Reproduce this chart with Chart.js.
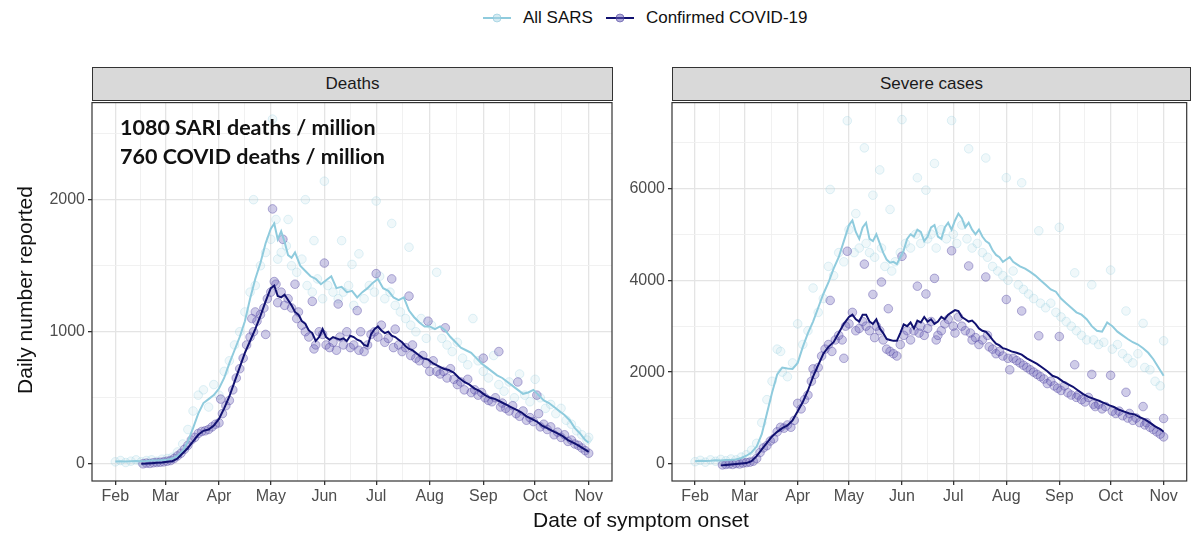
<!DOCTYPE html>
<html>
<head>
<meta charset="utf-8">
<script src="https://cdn.jsdelivr.net/npm/chart.js@4.4.1/dist/chart.umd.min.js"></script>
<style>
body { margin: 0; width: 1192px; height: 535px; background: #fff; position: relative; overflow: hidden; font-family: "Liberation Sans", Arial, sans-serif; }
canvas { position: absolute; top: 90px; }
#deaths { left: 0; }
#severe { left: 580px; }
.strip { position: absolute; top: 67px; height: 34px; box-sizing: border-box; background: #D9D9D9; border: 1.2px solid #333; text-align: center; line-height: 31px; font-size: 17px; color: #1A1A1A; }
.legend { position: absolute; left: 483px; top: 6px; display: flex; align-items: center; font-size: 17px; color: #111; height: 24px; }
.legend span { margin: 0 13px 0 12px; }
.title-x { position: absolute; left: 341px; width: 600px; top: 508px; text-align: center; font-size: 21px; line-height: 24px; color: #111; }
.title-y { position: absolute; left: -175px; width: 400px; top: 278px; text-align: center; font-size: 21px; line-height: 24px; color: #111; transform: rotate(-90deg); }
.note { position: absolute; left: 120px; top: 113px; font-family: Lato, "Open Sans", sans-serif; font-weight: bold; font-size: 21.5px; line-height: 29px; color: #111; z-index: 2; }
</style>
</head>
<body>
<div class="legend">
  <svg width="28" height="20"><line x1="0" y1="10" x2="28" y2="10" stroke="#8FCBDD" stroke-width="2"/><circle cx="14" cy="10" r="4" fill="rgba(173,216,230,0.5)" stroke="rgba(140,200,220,0.6)"/></svg>
  <span>All SARS</span>
  <svg width="28" height="20"><line x1="0" y1="10" x2="28" y2="10" stroke="#101070" stroke-width="2"/><circle cx="14" cy="10" r="4" fill="rgba(100,90,180,0.5)" stroke="rgba(80,70,160,0.6)"/></svg>
  <span>Confirmed COVID-19</span>
</div>
<div class="strip" style="left:92px; width:521px;">Deaths</div>
<div class="strip" style="left:672px; width:519px;">Severe cases</div>
<div class="note">1080 SARI deaths / million<br>760 COVID deaths / million</div>
<canvas id="deaths" width="620" height="421"></canvas>
<canvas id="severe" width="612" height="421"></canvas>
<div class="title-y">Daily number reported</div>
<div class="title-x">Date of symptom onset</div>

<script>
// x = days since 1 Feb
const monthDays = [0, 29, 60, 90, 121, 151, 182, 213, 243, 274]
const monthLabels = ['Feb', 'Mar', 'Apr', 'May', 'Jun', 'Jul', 'Aug', 'Sep', 'Oct', 'Nov']
const deathsTicks = [0, 1000, 2000]
const severeTicks = [0, 2000, 4000, 6000]

// Deaths panel
const deathsSarsLine = [[0,18],[3,20],[6,18],[9,20],[12,22],[15,20],[18,22],[21,25],[24,25],[27,28],[30,30],[33,40],[36,60],[39,95],[42,170],[45,270],[48,380],[51,460],[54,490],[57,520],[60,570],[63,650],[66,760],[69,860],[72,960],[75,1080],[78,1250],[81,1400],[84,1520],[87,1670],[90,1780],[92,1820],[94,1700],[96,1760],[98,1680],[100,1580],[102,1560],[104,1600],[107,1500],[110,1460],[113,1420],[116,1400],[119,1360],[122,1390],[125,1420],[128,1330],[131,1340],[134,1300],[137,1310],[140,1260],[143,1300],[146,1330],[149,1370],[152,1400],[155,1330],[158,1310],[161,1260],[164,1240],[167,1260],[170,1160],[173,1110],[176,1070],[179,1040],[182,1040],[185,1020],[188,1040],[191,1010],[194,960],[197,920],[200,880],[203,860],[206,840],[209,800],[212,760],[215,730],[218,700],[221,670],[224,650],[227,620],[230,590],[233,560],[236,530],[239,540],[242,560],[245,520],[248,480],[251,460],[254,430],[257,400],[260,370],[263,330],[266,270],[269,230],[272,180],[274,160]]
const deathsCovidLine = [[15,0],[18,2],[21,5],[24,8],[27,10],[30,15],[33,20],[36,40],[39,80],[42,120],[45,170],[48,220],[51,250],[54,260],[57,290],[60,340],[63,420],[66,510],[69,620],[72,730],[75,840],[78,930],[81,1020],[84,1120],[87,1230],[90,1330],[92,1350],[94,1270],[96,1260],[98,1280],[100,1240],[102,1200],[104,1150],[106,1130],[108,1080],[110,1060],[112,1010],[114,990],[116,930],[118,960],[120,1020],[122,960],[124,940],[126,960],[128,950],[130,940],[132,950],[134,930],[136,970],[138,960],[140,940],[142,930],[144,900],[146,890],[148,980],[150,1020],[152,1040],[154,1010],[156,990],[158,1000],[160,970],[162,960],[164,940],[166,920],[168,890],[170,870],[172,860],[175,830],[178,800],[181,790],[184,760],[187,740],[190,720],[193,710],[196,690],[199,650],[202,620],[205,600],[208,570],[211,550],[214,520],[217,500],[220,490],[223,470],[226,450],[229,430],[232,410],[235,390],[238,360],[241,340],[244,320],[247,290],[250,270],[253,250],[256,230],[259,210],[262,180],[265,160],[268,140],[271,115],[274,90]]
const deathsSarsPoints = [[0,15],[3,25],[6,10],[9,20],[12,30],[15,15],[18,25],[21,30],[24,20],[27,35],[30,40],[33,50],[36,90],[39,150],[42,260],[45,400],[48,520],[51,560],[54,430],[57,600],[60,520],[63,700],[66,780],[69,900],[72,1000],[75,1150],[78,1300],[80,2000],[81,1350],[84,1500],[87,1600],[90,1700],[91,2610],[93,1850],[94,1550],[96,1600],[99,1650],[100,1850],[102,1500],[105,1450],[108,1550],[110,2000],[111,1350],[114,1300],[115,1690],[117,1400],[120,1250],[121,2140],[123,1350],[126,1300],[129,1250],[131,1690],[132,1300],[135,1350],[137,1510],[138,1200],[141,1590],[144,1250],[147,1350],[150,1300],[151,1990],[153,1420],[156,1250],[159,1300],[160,1820],[162,1200],[165,1150],[168,1100],[170,1640],[171,1050],[174,1000],[177,1100],[180,950],[183,1050],[186,1450],[189,950],[192,900],[195,850],[198,920],[201,800],[204,750],[207,1100],[210,780],[213,700],[216,650],[219,820],[222,600],[225,550],[228,620],[231,500],[234,680],[237,520],[240,470],[243,640],[246,500],[249,420],[252,450],[255,380],[258,420],[261,330],[264,300],[267,250],[270,220],[273,180],[274,200]]
const deathsCovidPoints = [[16,0],[18,5],[20,3],[22,8],[24,10],[26,12],[28,15],[30,20],[32,25],[34,40],[36,60],[38,80],[40,110],[42,140],[44,180],[46,200],[48,230],[50,245],[52,250],[54,260],[56,280],[58,300],[60,310],[61,490],[62,380],[64,440],[66,480],[68,560],[70,650],[72,720],[74,800],[76,900],[78,960],[79,1100],[80,1000],[81,1150],[82,1080],[84,1130],[86,1180],[87,980],[88,1250],[90,1300],[91,1930],[92,1380],[93,1360],[94,1220],[96,1300],[97,1700],[98,1200],[100,1250],[102,1180],[104,1360],[105,1100],[106,1150],[108,1050],[110,1000],[112,960],[114,1230],[115,870],[116,900],[118,1000],[120,980],[121,1520],[122,900],[124,880],[126,920],[128,860],[129,1210],[130,960],[132,900],[134,1000],[136,880],[138,900],[140,1160],[141,860],[142,1000],[144,850],[146,900],[148,980],[150,1000],[151,1440],[152,960],[154,1050],[156,920],[158,950],[160,1400],[161,880],[162,1020],[164,900],[166,850],[168,880],[170,1270],[171,820],[172,900],[174,800],[176,780],[178,820],[180,760],[181,1080],[182,700],[184,780],[186,700],[188,680],[190,700],[191,1030],[192,650],[194,720],[196,640],[198,600],[200,620],[202,560],[204,640],[206,540],[208,560],[210,520],[212,540],[213,800],[214,500],[216,480],[218,470],[220,500],[222,850],[223,430],[224,460],[226,420],[228,400],[230,440],[232,380],[233,620],[234,360],[236,400],[238,330],[240,350],[242,320],[244,520],[245,380],[246,280],[248,300],[250,260],[252,280],[254,220],[256,240],[258,200],[260,220],[262,170],[264,180],[266,150],[268,140],[270,120],[272,100],[274,80]]

// Severe cases panel
const severeSarsLine = [[0,60],[3,70],[6,65],[9,70],[12,80],[15,75],[18,85],[21,90],[24,100],[27,130],[30,180],[33,250],[36,380],[39,650],[42,1100],[45,1550],[48,1950],[51,2100],[54,2080],[57,2070],[60,2200],[63,2550],[66,2850],[69,3100],[72,3400],[75,3700],[78,3950],[81,4250],[84,4500],[87,4850],[90,5200],[92,5300],[94,5050],[96,4900],[98,5150],[100,5250],[102,4900],[104,4850],[106,5000],[108,4800],[110,4600],[112,4450],[114,4380],[116,4400],[118,4350],[120,4500],[122,4650],[124,4900],[126,5000],[128,4950],[130,5100],[132,5050],[134,4850],[136,4950],[138,5150],[140,5200],[142,4950],[144,4900],[146,5150],[148,5250],[150,5100],[152,5300],[154,5450],[156,5350],[158,5150],[160,5250],[162,5100],[164,5000],[166,5100],[168,4950],[170,4850],[172,4800],[174,4650],[176,4550],[178,4500],[180,4400],[182,4450],[184,4500],[186,4400],[188,4350],[190,4300],[193,4250],[196,4180],[199,4100],[202,4000],[205,3900],[208,3800],[211,3750],[214,3600],[217,3500],[220,3400],[223,3300],[226,3250],[229,3150],[232,3000],[235,2900],[238,2880],[241,3080],[244,3000],[247,2880],[250,2800],[253,2720],[256,2650],[259,2600],[262,2520],[265,2420],[268,2280],[271,2100],[274,1920]]
const severeCovidLine = [[15,-30],[18,-20],[21,-10],[24,0],[27,10],[30,20],[33,60],[36,170],[39,320],[42,460],[45,600],[48,700],[51,780],[54,840],[57,950],[60,1150],[63,1350],[66,1600],[69,1900],[72,2150],[75,2400],[78,2550],[81,2650],[84,2850],[87,3050],[90,3200],[92,3250],[94,3150],[96,3100],[98,3250],[100,3250],[102,3100],[104,3050],[106,3150],[108,2950],[110,2850],[112,2720],[114,2700],[116,2680],[118,2680],[120,2850],[122,3040],[124,3000],[126,3080],[128,2950],[130,3120],[132,3080],[134,3200],[136,3100],[138,3150],[140,3050],[142,3100],[144,3200],[146,3150],[148,3250],[150,3300],[152,3350],[154,3330],[156,3200],[158,3150],[160,3100],[162,3120],[164,3050],[166,2950],[168,2900],[170,2880],[172,2800],[174,2700],[176,2620],[178,2580],[180,2520],[182,2500],[185,2450],[188,2420],[191,2380],[194,2300],[197,2240],[200,2180],[203,2100],[206,2020],[209,1920],[212,1880],[215,1800],[218,1740],[221,1680],[224,1600],[227,1520],[230,1460],[233,1420],[236,1380],[239,1330],[242,1280],[245,1240],[248,1180],[251,1140],[254,1100],[257,1080],[260,1020],[263,970],[266,900],[269,820],[272,760],[274,700]]
const severeSarsPoints = [[0,50],[3,80],[6,40],[9,90],[12,60],[15,100],[18,70],[21,110],[24,90],[27,150],[30,200],[33,300],[36,450],[39,900],[42,1400],[45,1800],[48,2500],[50,2450],[51,2000],[54,1900],[57,2200],[60,3050],[63,2600],[66,2900],[69,3830],[72,3300],[75,3600],[78,4300],[79,5975],[81,4100],[84,4600],[87,4400],[89,7470],[90,5100],[93,4600],[94,5450],[96,4700],[99,6880],[100,4800],[102,4600],[104,5850],[105,4500],[108,6400],[109,4700],[111,4300],[114,5540],[115,4200],[117,4400],[120,4600],[121,7495],[123,4800],[126,4700],[129,5000],[130,6230],[132,4800],[135,5960],[136,4900],[138,5000],[140,6540],[141,4700],[144,5100],[147,4900],[150,7475],[151,5000],[153,4800],[156,5200],[159,4900],[160,6860],[162,4700],[165,4800],[168,4600],[170,6660],[171,4500],[174,4300],[177,4200],[180,4100],[182,6230],[183,4000],[186,4200],[189,3900],[191,6120],[192,3800],[195,3700],[198,3600],[201,5075],[202,3500],[205,3400],[208,3500],[211,3300],[213,5150],[214,3200],[217,3100],[220,3000],[222,4160],[223,2900],[226,2800],[229,2700],[232,3900],[233,2700],[236,2600],[239,2650],[243,4220],[244,2500],[247,2600],[250,2400],[252,3330],[253,2300],[256,2200],[259,2400],[262,3060],[263,2100],[266,2050],[269,1800],[272,1700],[274,2680]]
const severeCovidPoints = [[16,-20],[18,-10],[20,0],[22,-10],[24,10],[26,0],[28,20],[30,30],[32,40],[34,60],[36,120],[38,250],[40,350],[42,400],[44,500],[46,550],[48,700],[50,800],[52,780],[54,850],[56,800],[58,950],[60,1320],[62,1200],[64,1400],[66,1500],[68,1800],[69,2070],[70,1950],[72,2100],[74,2350],[76,2500],[78,2600],[79,3560],[80,2450],[82,2700],[84,2800],[86,2700],[87,2300],[88,3000],[89,4630],[90,3050],[92,3300],[94,2900],[96,2950],[98,3100],[99,4350],[100,3000],[102,2900],[104,3690],[105,2750],[106,3000],[108,2900],[109,3960],[110,2700],[112,2500],[113,3380],[114,2450],[116,2400],[118,2350],[120,2600],[121,4520],[122,2800],[124,2900],[126,2700],[128,2900],[130,3870],[131,2850],[132,3000],[134,2800],[135,3700],[136,2950],[138,3100],[140,4040],[141,2700],[142,2800],[144,2900],[146,3050],[148,3150],[150,4640],[151,3000],[152,2850],[154,3200],[156,3000],[158,2900],[160,4310],[161,2850],[162,2700],[164,2750],[166,2600],[168,2700],[170,4070],[171,2800],[172,2550],[174,2500],[176,2400],[178,2450],[180,2350],[182,3580],[183,2300],[184,2050],[186,2300],[188,2250],[190,2200],[191,3330],[192,2150],[194,2100],[196,2050],[198,2000],[200,1950],[201,2790],[202,1900],[204,1850],[206,1750],[208,1800],[210,1700],[212,1650],[213,2775],[214,1600],[216,1700],[218,1550],[220,1500],[222,2160],[223,1450],[224,1500],[226,1400],[228,1350],[230,1450],[232,1950],[233,1300],[234,1250],[236,1300],[238,1200],[240,1250],[243,1930],[244,1150],[246,1100],[248,1150],[250,1050],[252,1560],[253,1000],[254,1100],[256,950],[258,1000],[260,900],[262,1250],[263,850],[264,900],[266,800],[268,750],[270,700],[272,650],[274,590],[274,990]]

var tickFont = { family: 'Liberation Sans', size: 16 }

function toXY(pairs) {
    return pairs.map(p => ({ x: p[0], y: p[1] }))
}

// majors plus the half-way minor lines
function withMinors(majors, extraTop) {
    var all = majors.slice()
    for (var i = 0; i < majors.length - 1; i++) all.push((majors[i] + majors[i + 1]) / 2)
    if (extraTop) all.push(majors[majors.length - 1] + (majors[1] - majors[0]) / 2)
    return all.sort((a, b) => a - b)
}

function gridStyle(majors) {
    var isMajor = ctx => ctx.tick && majors.indexOf(ctx.tick.value) >= 0
    return {
        color: ctx => isMajor(ctx) ? '#E4E4E4' : '#EFEFEF',
        lineWidth: ctx => isMajor(ctx) ? 1.3 : 0.9,
        tickColor: ctx => isMajor(ctx) ? '#333333' : 'rgba(0,0,0,0)',
        tickLength: 4
    }
}

const panelBorder = {
    id: 'panelBorder',
    afterDraw(chart) {
        const a = chart.chartArea, c = chart.ctx
        c.save()
        c.strokeStyle = '#333333'
        c.lineWidth = 1.2
        c.strokeRect(a.left, a.top, a.right - a.left, a.bottom - a.top)
        c.restore()
    }
}

function makePanel(id, yMin, yMax, yMajors, sarsLine, covidLine, sarsPts, covidPts, padRight) {
    const ctx = document.getElementById(id).getContext('2d')
    return new Chart(ctx, {
        type: 'scatter',
        data: {
            datasets: [
                { data: toXY(covidLine), showLine: true, pointRadius: 0, borderColor: '#111170', borderWidth: 2, order: 0 },
                { data: toXY(sarsLine), showLine: true, pointRadius: 0, borderColor: '#8FCBDD', borderWidth: 2, order: 1 },
                { data: toXY(covidPts), showLine: false, pointRadius: 4.3, pointBackgroundColor: 'rgba(105,95,185,0.32)', pointBorderColor: 'rgba(85,75,165,0.42)', pointBorderWidth: 1, order: 2 },
                { data: toXY(sarsPts), showLine: false, pointRadius: 4.3, pointBackgroundColor: 'rgba(173,216,230,0.18)', pointBorderColor: 'rgba(140,200,220,0.26)', pointBorderWidth: 1, order: 3 }
            ]
        },
        options: {
            responsive: false,
            animation: false,
            layout: { padding: { top: 10, right: padRight, left: 0, bottom: 0 } },
            plugins: { legend: { display: false }, tooltip: { enabled: false } },
            scales: {
                x: {
                    type: 'linear', min: -13.5, max: 287.5,
                    afterBuildTicks: s => { s.ticks = withMinors(monthDays, false).map(v => ({ value: v })) },
                    afterFit: s => { s.height = 30 },
                    grid: gridStyle(monthDays),
                    border: { display: false },
                    ticks: {
                        autoSkip: false, maxRotation: 0, padding: 2, color: '#4D4D4D', font: tickFont,
                        callback: v => { var i = monthDays.indexOf(v); return i >= 0 ? monthLabels[i] : '' }
                    }
                },
                y: {
                    min: yMin, max: yMax,
                    afterBuildTicks: s => { s.ticks = withMinors(yMajors, true).map(v => ({ value: v })) },
                    afterFit: s => { s.width = 92 },
                    grid: gridStyle(yMajors),
                    border: { display: false },
                    ticks: {
                        padding: 3, color: '#4D4D4D', font: tickFont,
                        callback: v => yMajors.indexOf(v) >= 0 ? String(v) : ''
                    }
                }
            }
        },
        plugins: [panelBorder]
    })
}

makePanel('deaths', -130, 2735, deathsTicks, deathsSarsLine, deathsCovidLine, deathsSarsPoints, deathsCovidPoints, 8)
makePanel('severe', -370, 7865, severeTicks, severeSarsLine, severeCovidLine, severeSarsPoints, severeCovidPoints, 2)
</script>
</body>
</html>
